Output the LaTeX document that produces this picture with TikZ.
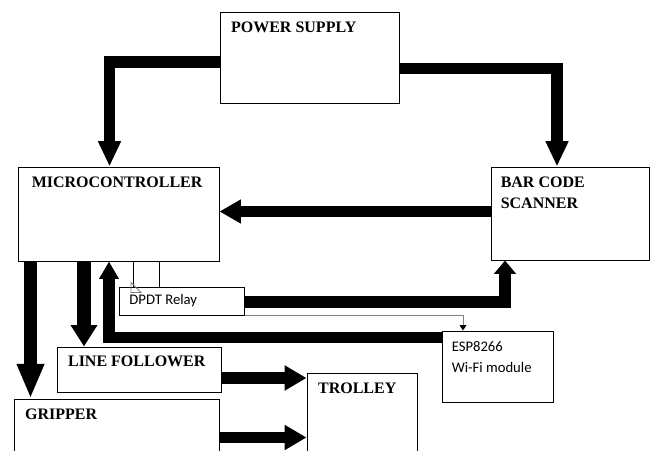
\documentclass[tikz,border=0pt]{standalone}
\usepackage{fontspec}
\setmainfont{Liberation Serif}
\newfontfamily\calibri{Carlito}
\usetikzlibrary{arrows.meta}

\begin{document}
\begin{tikzpicture}[x=0.75pt, y=-0.75pt,
  blk/.style={draw, line width=0.75pt, inner sep=0pt},
  head/.style={anchor=north west, inner sep=0pt, xshift=8.5pt, yshift=-7.3pt,
    align=left, font=\bfseries\fontsize{12}{15.75}\selectfont},
  note/.style={anchor=north west, inner sep=0pt, xshift=8pt, yshift=-8pt,
    align=left, font=\calibri\fontsize{11}{15.75}\selectfont},
  fat/.style={line width=8.5pt, -{Triangle[length=16pt, width=17pt]}},
  wire/.style={line width=0.75pt}]
\useasboundingbox (0,0) rectangle (653,450);
\clip (0,0) rectangle (653,450);

\node[blk, minimum width=134.25pt, minimum height=68.25pt,
  label={[head]north west:POWER SUPPLY}] (ps) at (309.5,57.5) {};
\node[blk, minimum width=150.75pt, minimum height=70.5pt,
  label={[head, xshift=2pt]north west:MICROCONTROLLER}] (mc) at (118.5,214) {};
\node[blk, minimum width=118.5pt, minimum height=69.75pt,
  label={[head, xshift=-1pt]north west:BAR CODE\\SCANNER}] (bcs) at (570,213.5) {};
\node[blk, minimum width=93.75pt, minimum height=21pt,
  label={[note, yshift=2.5pt]north west:DPDT Relay}] (relay) at (181.5,301) {};
\node[blk, minimum width=83.25pt, minimum height=53.25pt,
  label={[note, xshift=-0.5pt]north west:ESP8266\\Wi-Fi module}] (esp) at (497.5,366.5) {};
\node[blk, minimum width=123pt, minimum height=33.75pt,
  label={[head, yshift=0.7pt]north west:LINE FOLLOWER}] (lf) at (139,369.5) {};
\node[blk, minimum width=82.5pt, minimum height=72.75pt,
  label={[head]north west:TROLLEY}] (trol) at (362,421.5) {};
\node[blk, minimum width=153.75pt, minimum height=53.25pt,
  label={[head]north west:GRIPPER}] (grip) at (116.5,434.5) {};

% power and data paths
\draw[fat, -{Triangle[length=19pt, width=16pt]}] (ps.west |- 0,62) -| (mc.north -| 109.5,0);
\draw[fat, -{Triangle[length=19pt, width=16pt]}] (ps.east |- 0,68.5) -| (bcs.north -| 557,0);
\draw[fat] (bcs.west |- 0,211.5) -- (mc.east |- 0,211.5);
\draw[fat, -{Triangle[length=10pt, width=16pt]}] (relay.east |- 0,302) -| (bcs.south -| 505,0);
\draw[fat, -{Triangle[length=13pt, width=14pt]}] (esp.west |- 0,337.5) -| (mc.south -| 109,0);
\draw[fat, line width=9.5pt, -{Triangle[length=26pt, width=19pt]}] (mc.south -| 30.5,0) -- (grip.north -| 30.5,0);
\draw[fat, line width=10pt, -{Triangle[length=16pt, width=19pt]}] (mc.south -| 84,0) -- (lf.north -| 84,0);
\draw[fat, -{Triangle[length=16.5pt, width=18pt]}] (lf.east |- 0,378) -- (trol.west |- 0,378);
\draw[fat, -{Triangle[length=16.5pt, width=18pt]}] (grip.east |- 0,437.5) -- (trol.west |- 0,437.5);

% relay wiring
\draw[wire] (mc.south -| 133,0) -- (relay.north -| 133,0);
\draw[gray, line width=0.6pt] (relay.north -| 131,0) ++(0,-4) -- ++(0,10) -- ++(10,0) -- cycle;
\draw[wire] (mc.south -| 159,0) -- (relay.north -| 159,0);
\draw[gray, wire, -{Triangle[black, length=4pt, width=5pt]}] (relay.south east) -| (esp.north -| 463,0);
\end{tikzpicture}
\end{document}
